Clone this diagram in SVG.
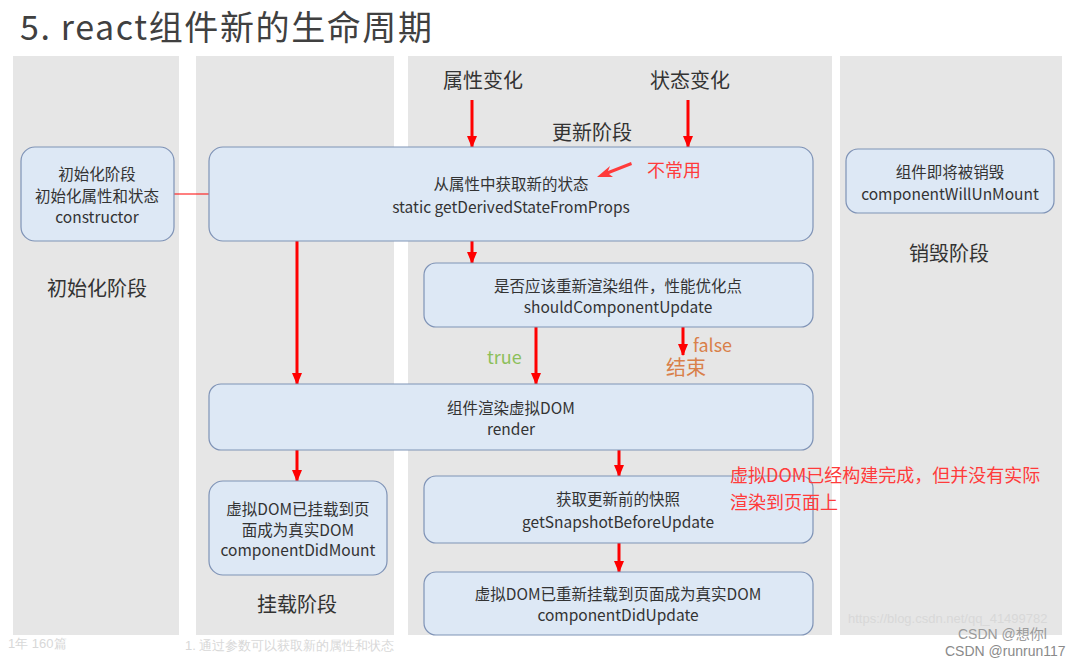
<svg xmlns="http://www.w3.org/2000/svg" width="1083" height="666" viewBox="0 0 1083 666">
<defs>
<style>
.panel{fill:#e6e6e6}
.node rect{fill:#dde8f5;stroke:#7f93b6;stroke-width:1.2}
.t{font-family:"Noto Sans CJK SC","Noto Sans",sans-serif;font-size:15.5px;fill:#333;text-anchor:middle;dominant-baseline:central}
.stage{font-family:"Noto Sans CJK SC",sans-serif;font-size:20px;fill:#333;text-anchor:middle;dominant-baseline:central}
.red{font-family:"Noto Sans CJK SC",sans-serif;font-size:18px;fill:#ff3b3b;dominant-baseline:central}
.conn line{stroke:#ff0000;stroke-width:3}
.wm{font-family:"Liberation Sans",sans-serif;font-size:13px;fill:#d8d8d8}
</style>
<marker id="ah" markerUnits="userSpaceOnUse" markerWidth="12" markerHeight="12" viewBox="0 0 12 12" refX="11" refY="6" orient="auto">
<path d="M0,1 L12,6 L0,11 Z" fill="#ff0000"/>
</marker>
</defs>
<rect width="1083" height="666" fill="#ffffff"/>
<text x="20" y="40" font-family="Noto Sans CJK SC, sans-serif" font-size="34" letter-spacing="1.6" fill="#404040">5. react组件新的生命周期</text>
<g id="panels">
<rect class="panel" x="13" y="56" width="166" height="579"/>
<rect class="panel" x="196" y="56" width="198" height="579"/>
<rect class="panel" x="408" y="56" width="424" height="579"/>
<rect class="panel" x="840" y="56" width="222" height="579"/>
</g>
<g id="labels">
<text class="stage" x="483" y="79">属性变化</text>
<text class="stage" x="690" y="79">状态变化</text>
<text class="stage" x="592" y="131">更新阶段</text>
<text class="stage" x="97" y="287">初始化阶段</text>
<text class="stage" x="297" y="603">挂载阶段</text>
<text class="stage" x="949" y="252">销毁阶段</text>
<text x="487" y="356" font-family="Noto Sans CJK SC, sans-serif" font-size="18" fill="#8cbf5a" dominant-baseline="central">true</text>
<text x="693" y="344" font-family="Noto Sans CJK SC, sans-serif" font-size="18" fill="#d9804a" dominant-baseline="central">false</text>
<text x="666" y="366" font-family="Noto Sans CJK SC, sans-serif" font-size="20" fill="#d9804a" dominant-baseline="central">结束</text>
</g>
<g id="connectors" class="conn">
<line x1="174" y1="194" x2="209" y2="194" style="stroke-width:1.2"/>
<line x1="472" y1="100" x2="472" y2="147" marker-end="url(#ah)"/>
<line x1="688" y1="100" x2="688" y2="147" marker-end="url(#ah)"/>
<line x1="472" y1="241" x2="472" y2="263" marker-end="url(#ah)"/>
<line x1="297" y1="241" x2="297" y2="384" marker-end="url(#ah)"/>
<line x1="536" y1="327" x2="536" y2="384" marker-end="url(#ah)"/>
<line x1="683" y1="327" x2="683" y2="355" marker-end="url(#ah)"/>
<line x1="297" y1="450" x2="297" y2="481" marker-end="url(#ah)"/>
<line x1="619" y1="450" x2="619" y2="476" marker-end="url(#ah)"/>
<line x1="619" y1="543" x2="619" y2="572" marker-end="url(#ah)"/>
</g>
<g id="n-constructor" class="node">
<rect x="21" y="147" width="153" height="94" rx="14"/>
<text class="t" x="97" y="173">初始化阶段</text>
<text class="t" x="97" y="195">初始化属性和状态</text>
<text class="t" x="97" y="216">constructor</text>
</g>
<g id="n-gdsfp" class="node">
<rect x="209" y="147" width="604" height="94" rx="14"/>
<text class="t" x="511" y="183">从属性中获取新的状态</text>
<text class="t" x="511" y="206">static getDerivedStateFromProps</text>
</g>
<g id="n-scu" class="node">
<rect x="424" y="263" width="389" height="64" rx="12"/>
<text class="t" x="618" y="285">是否应该重新渲染组件，性能优化点</text>
<text class="t" x="618" y="306">shouldComponentUpdate</text>
</g>
<g id="n-render" class="node">
<rect x="209" y="384" width="604" height="66" rx="12"/>
<text class="t" x="511" y="407">组件渲染虚拟DOM</text>
<text class="t" x="511" y="428">render</text>
</g>
<g id="n-cdm" class="node">
<rect x="209" y="481" width="178" height="94" rx="14"/>
<text class="t" x="298" y="508">虚拟DOM已挂载到页</text>
<text class="t" x="298" y="529">面成为真实DOM</text>
<text class="t" x="298" y="549">componentDidMount</text>
</g>
<g id="n-gsbu" class="node">
<rect x="424" y="476" width="389" height="67" rx="12"/>
<text class="t" x="618" y="498">获取更新前的快照</text>
<text class="t" x="618" y="521">getSnapshotBeforeUpdate</text>
</g>
<g id="n-cdu" class="node">
<rect x="424" y="572" width="389" height="63" rx="12"/>
<text class="t" x="618" y="593">虚拟DOM已重新挂载到页面成为真实DOM</text>
<text class="t" x="618" y="614">componentDidUpdate</text>
</g>
<g id="n-cwu" class="node">
<rect x="846" y="149" width="208" height="64" rx="12"/>
<text class="t" x="950" y="171">组件即将被销毁</text>
<text class="t" x="950" y="193">componentWillUnMount</text>
</g>
<g id="annotations">
<path d="M631,162 L608,171 L610,166 L597,177 L613,177 L609,174 L632,165 Z" fill="#ff3b3b"/>
<text class="red" x="647" y="169">不常用</text>
<text class="red" x="730" y="474">虚拟DOM已经构建完成，但并没有实际</text>
<text class="red" x="730" y="501">渲染到页面上</text>
</g>
<g id="watermarks">
<text class="wm" x="848" y="623" font-size="14" fill="#f0f0f0">https://blog.csdn.net/qq_41499782</text>
<text class="wm" x="185" y="650" font-family="Noto Sans CJK SC, sans-serif">1. 通过参数可以获取新的属性和状态</text>
<text class="wm" x="8" y="648" font-family="Noto Sans CJK SC, sans-serif">1年  160篇</text>
<text x="958" y="639" font-family="Liberation Sans, Noto Sans CJK SC, sans-serif" font-size="14" fill="#9a9a9a">CSDN @想你l</text>
<text x="945" y="656" font-family="Liberation Sans, sans-serif" font-size="14" fill="#8a8a8a">CSDN @runrun117</text>
</g>
</svg>
